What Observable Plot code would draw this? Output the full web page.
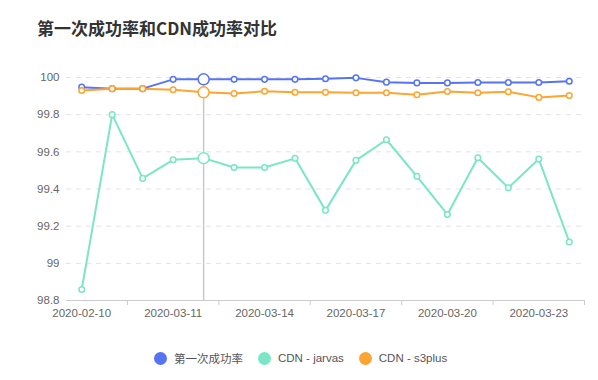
<!DOCTYPE html>
<html>
<head>
<meta charset="utf-8">
<script src="https://cdn.jsdelivr.net/npm/d3@7"></script>
<script src="https://cdn.jsdelivr.net/npm/@observablehq/plot@0.6"></script>
<style>
  body { margin: 0; background: #fff; font-family: "Liberation Sans", "Noto Sans CJK SC", sans-serif; }
  #title { height: 50px; box-sizing: border-box; padding: 18px 0 0 37px; font-size: 17px; font-weight: bold; color: #333; line-height: 20px; font-family: "Noto Sans CJK SC", sans-serif; }
  #legend { display: flex; justify-content: flex-start; padding-left: 154px; height: 26px; align-items: center; font-size: 11.5px; color: #555; }
  .item { display: flex; align-items: center; margin-right: 15px; }
  .sw { width: 13px; height: 13px; border-radius: 50%; margin-right: 7px; }
</style>
</head>
<body>
<div id="title">第一次成功率和CDN成功率对比</div>
<div id="chart"></div>
<div id="legend"></div>
<script>
const dates = ["2020-02-10","2020-03-09","2020-03-10","2020-03-11","2020-03-12","2020-03-13","2020-03-14","2020-03-15","2020-03-16","2020-03-17","2020-03-18","2020-03-19","2020-03-20","2020-03-21","2020-03-22","2020-03-23","2020-03-24"];
const firstRate = [99.948, 99.94, 99.94, 99.99, 99.99, 99.99, 99.99, 99.99, 99.993, 99.998, 99.975, 99.971, 99.971, 99.973, 99.973, 99.973, 99.98];
const cdnJarvas = [98.859, 99.80, 99.457, 99.557, 99.566, 99.516, 99.516, 99.565, 99.285, 99.554, 99.665, 99.468, 99.263, 99.568, 99.407, 99.561, 99.115];
const cdnS3plus = [99.93, 99.94, 99.94, 99.934, 99.92, 99.914, 99.926, 99.921, 99.92, 99.918, 99.918, 99.907, 99.925, 99.918, 99.923, 99.893, 99.903];
const seriesNames = ["第一次成功率", "CDN - jarvas", "CDN - s3plus"];
const seriesColors = ["#5673f3", "#7ae6c6", "#fca530"];
const yTicks = [98.8, 99, 99.2, 99.4, 99.6, 99.8, 100];
const labelIdx = [0, 3, 6, 9, 12, 15];
const boundaryTicks = [1.5, 4.5, 7.5, 10.5, 13.5, 16.5];
const hoverIdx = 4;

const allSeries = [firstRate, cdnJarvas, cdnS3plus];
const rows = [];
allSeries.forEach((vals, s) => vals.forEach((v, i) => rows.push({i, date: dates[i], series: seriesNames[s], value: v})));

const chart = Plot.plot({
  width: 598,
  height: 295,
  marginLeft: 66,
  marginRight: 14,
  marginTop: 27,
  marginBottom: 45,
  style: {fontFamily: "'Liberation Sans', 'Noto Sans CJK SC', sans-serif", background: "transparent"},
  x: {type: "linear", domain: [-0.5, dates.length - 0.5], axis: null, label: null},
  y: {domain: [98.8, 100], axis: null, label: null},
  color: {domain: seriesNames, range: seriesColors},
  marks: [
    Plot.ruleY(yTicks.filter(v => v > 98.8), {y: d => d, stroke: "#e3e3e3", strokeDasharray: "5,5", strokeWidth: 1}),
    Plot.ruleY([98.8], {y: d => d, stroke: "#cccccc", strokeWidth: 1}),
    Plot.axisY(yTicks, {tickSize: 0, tickPadding: 7, tickFormat: d => String(+d.toFixed(1)), fontSize: 11.5, color: "#666", label: null}),
    Plot.axisX(labelIdx, {tickSize: 0, tickPadding: 8, tickFormat: i => dates[i], fontSize: 11.5, color: "#666", label: null}),
    Plot.axisX(boundaryTicks, {tickSize: 5, tickFormat: () => "", stroke: "#cccccc", label: null}),
    Plot.ruleX([hoverIdx], {x: d => d, y1: 100, y2: 98.8, stroke: "#c8c8c8", strokeWidth: 1.5}),
    Plot.line(rows, {x: "i", y: "value", z: "series", stroke: "series", strokeWidth: 2}),
    Plot.dot(rows, {x: "i", y: "value", stroke: "series", fill: "white", r: 2.8, strokeWidth: 1.5}),
    Plot.dot(rows.filter(d => d.i === hoverIdx), {x: "i", y: "value", stroke: "series", fill: "white", r: 5.5, strokeWidth: 1.5})
  ]
});
document.getElementById("chart").appendChild(chart);

const legend = document.getElementById("legend");
seriesNames.forEach((name, k) => {
  const item = document.createElement("div");
  item.className = "item";
  const sw = document.createElement("div");
  sw.className = "sw";
  sw.style.background = seriesColors[k];
  const t = document.createElement("span");
  t.textContent = name;
  item.appendChild(sw);
  item.appendChild(t);
  legend.appendChild(item);
});
</script>
</body>
</html>
